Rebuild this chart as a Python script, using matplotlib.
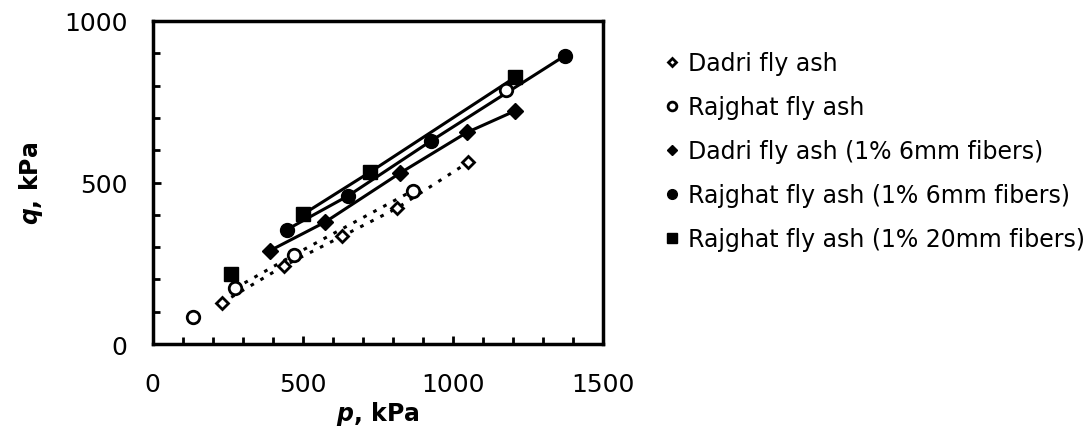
import matplotlib
matplotlib.use('Agg')
import matplotlib.pyplot as plt
from matplotlib.ticker import MultipleLocator, FixedLocator

plt.rcParams['font.family'] = ['DejaVu Sans']
plt.rcParams['mathtext.fontset'] = 'dejavusans'

# p, q (kPa)
dadri_p = [229, 437, 629, 812, 1051]
dadri_q = [127, 242, 333, 420, 563]

rajghat_p = [134, 273, 470, 866, 1177]
rajghat_q = [83, 172, 276, 475, 787]

dadri6_p = [390, 573, 823, 1046, 1207]
dadri6_q = [289, 377, 529, 655, 722]

rajghat6_p = [446, 651, 927, 1373]
rajghat6_q = [354, 459, 629, 893]

rajghat20_p = [262, 501, 723, 1207]
rajghat20_q = [217, 402, 532, 826]

labels = ['Dadri fly ash', 'Rajghat fly ash', 'Dadri fly ash (1% 6mm fibers)',
          'Rajghat fly ash (1% 6mm fibers)', 'Rajghat fly ash (1% 20mm fibers)']

fig = plt.figure(figsize=(10.91, 4.39), dpi=100)
ax = fig.add_axes([0.140, 0.214, 0.413, 0.736])

# lines
ax.plot(dadri_p, dadri_q, ls=(0, (1.2, 2.5)), lw=2.2, c='k')
ax.plot(rajghat_p[1:4], rajghat_q[1:4], ls=(0, (1.2, 2.5)), lw=2.2, c='k')
ax.plot(dadri6_p, dadri6_q, c='k', lw=2.2)
ax.plot(rajghat6_p, rajghat6_q, c='k', lw=2.2)
ax.plot(rajghat20_p[1:], rajghat20_q[1:], c='k', lw=2.2)

# markers
h = []
h += ax.plot(dadri_p, dadri_q, 'D', ms=6, mfc='white', mec='k', mew=2, ls='none', label=labels[0])
h += ax.plot(rajghat_p, rajghat_q, 'o', ms=9, mfc='white', mec='k', mew=2, ls='none', label=labels[1])
h += ax.plot(dadri6_p, dadri6_q, 'D', ms=8, c='k', ls='none', label=labels[2])
h += ax.plot(rajghat6_p, rajghat6_q, 'o', ms=10, c='k', ls='none', label=labels[3])
h += ax.plot(rajghat20_p, rajghat20_q, 's', ms=10, c='k', ls='none', label=labels[4])

ax.set_xlim(0, 1500)
ax.set_ylim(0, 1000)
ax.xaxis.set_major_locator(FixedLocator([0, 500, 1000, 1500]))
ax.yaxis.set_major_locator(FixedLocator([0, 500, 1000]))
ax.xaxis.set_minor_locator(MultipleLocator(100))
ax.yaxis.set_minor_locator(MultipleLocator(100))
ax.tick_params(which='both', direction='in', width=2, labelsize=18)
ax.tick_params(which='major', length=6)
ax.tick_params(which='minor', length=5)
ax.tick_params(axis='x', pad=20)
ax.tick_params(axis='y', pad=18)
for s in ax.spines.values():
    s.set_linewidth(2.5)

ax.set_xlabel('$\\mathbfit{p}$, kPa', fontsize=17, fontweight='bold', labelpad=2)
ax.set_ylabel('$\\mathbfit{q}$, kPa', fontsize=17, fontweight='bold', labelpad=14)

fig.legend(handles=h, loc='upper left', bbox_to_anchor=(0.609, 0.882), frameon=False,
           fontsize=17, markerscale=0.7, handlelength=0.6, handletextpad=0.4,
           labelspacing=0.85, borderpad=0, borderaxespad=0)

fig.savefig('out.png', dpi=100)
